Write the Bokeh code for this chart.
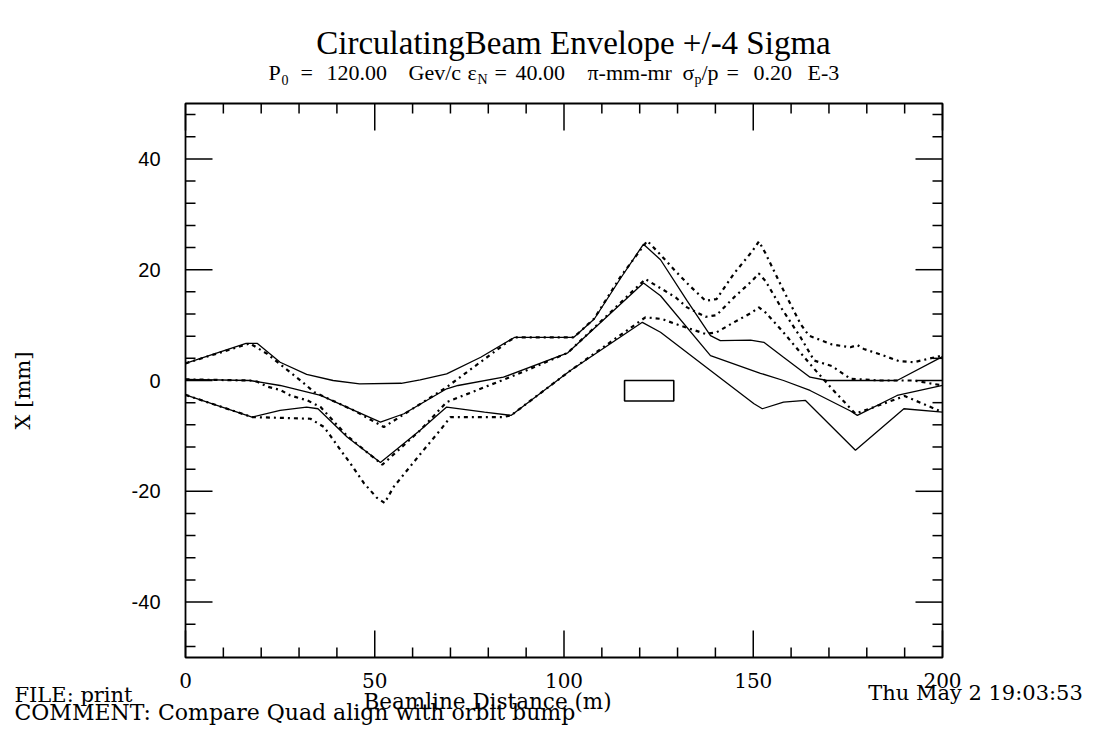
from bokeh.plotting import figure
from bokeh.models import Label, Range1d
from bokeh.core.properties import value
from bokeh.embed import file_html
from bokeh.resources import INLINE
import math

# ---------------- data ----------------
# Case A (solid): +4 sigma envelope, centre orbit, -4 sigma envelope
a_up_x = [0, 16, 19, 25, 32, 39, 46, 57, 62, 69, 78, 87, 102.6, 108, 115, 121, 125.5, 132.5, 138.7, 141.3, 149.3, 152.8, 158, 165, 169.5, 188, 200]
a_up_y = [3.1, 6.7, 6.7, 3.3, 1.1, 0.0, -0.6, -0.5, 0.1, 1.2, 4.2, 7.8, 7.8, 11.1, 18.5, 24.6, 21.8, 14.4, 8.1, 7.2, 7.3, 6.9, 4.2, 0.6, 0.0, 0.0, 4.3]

a_c_x = [0, 17, 25, 35.7, 44.5, 51.5, 57.7, 69, 72, 84, 101, 121, 125.5, 138.7, 151.9, 158, 165, 175.7, 177.5, 188, 200]
a_c_y = [0.2, 0.0, -0.9, -2.7, -5.4, -7.5, -6.0, -1.5, -0.9, 0.6, 5.0, 17.6, 15.3, 4.5, 1.3, 0.0, -1.8, -5.5, -6.3, -2.7, -0.9]

a_lo_x = [0, 17.6, 25, 32, 35, 42.7, 51.5, 62, 69, 79, 86, 101.7, 120.7, 125.5, 138.7, 150.2, 152.4, 158, 163.8, 177, 189.8, 200]
a_lo_y = [-2.6, -6.6, -5.4, -4.8, -5.1, -10.2, -14.8, -9.0, -4.8, -5.7, -6.3, 1.8, 10.5, 8.7, 1.8, -4.2, -5.1, -3.9, -3.6, -12.6, -5.1, -5.7]

# Case B (dotted): +4 sigma envelope, centre orbit, -4 sigma envelope
b_up_x = [0, 17, 21.6, 26, 30.4, 34, 44.5, 52.4, 69, 85, 87, 102.6, 108, 115, 122, 125.5, 129.5, 133.2, 137.4, 140.3, 144.9, 149.7, 151.5, 153.2, 157.6, 162.5, 164.7, 170.8, 175.7, 177.5, 179.2, 183.6, 188.5, 192.4, 200]
b_up_y = [3.1, 6.7, 4.8, 2.4, 0.0, -2.1, -5.4, -8.4, -1.2, 6.9, 7.8, 7.8, 11.2, 18.8, 25.2, 22.7, 19.7, 17.1, 14.4, 14.7, 19.3, 23.3, 25.1, 23.0, 16.8, 10.2, 8.1, 6.5, 6.0, 6.4, 5.7, 4.7, 3.5, 3.3, 4.5]

b_c_x = [0, 17, 18.9, 21.6, 25, 27.7, 32.2, 35.7, 42.7, 52, 62, 69, 83.5, 90, 101, 121.5, 125.9, 129.5, 132.5, 137.4, 140.3, 144.9, 149.7, 151.5, 153.2, 157.6, 162.5, 166.1, 170.8, 175.7, 183.6, 192.4, 200]
b_c_y = [0.2, 0.0, -0.2, -1.1, -1.7, -2.7, -3.6, -4.8, -10.0, -15.2, -9.0, -3.9, 0.0, 1.8, 5.0, 18.3, 16.5, 15.0, 13.2, 11.5, 11.8, 15.0, 18.0, 19.3, 18.0, 12.9, 7.8, 3.6, 2.6, 0.3, 0.0, 0.0, -0.9]

b_lo_x = [0, 17.6, 33, 36.6, 38.3, 41, 43.6, 47.1, 50.6, 52.6, 55, 62, 67.6, 70, 84, 86, 101.7, 121.5, 125.9, 129.5, 137.4, 140.3, 144.9, 149.7, 151.5, 153.2, 157.6, 162.5, 166.1, 170.8, 177, 190, 200]
b_lo_y = [-2.6, -6.6, -6.9, -8.4, -10.0, -12.6, -15.0, -18.5, -21.2, -22.1, -19.2, -13.3, -8.7, -6.6, -6.6, -6.3, 1.8, 11.4, 11.1, 10.2, 8.4, 8.7, 10.5, 12.3, 13.2, 12.3, 9.0, 5.0, 2.1, -1.5, -6.0, -2.8, -5.7]

# beamline element box
elem_left, elem_right, elem_bottom, elem_top = [116], [129], [-3.7], [0.0]

# axes
x_min, x_max = 0, 200
y_min, y_max = -50, 50
x_major_ticks = [0, 50, 100, 150, 200]
x_tick_labels = ["0", "50", "100", "150", "200"]
x_minor_ticks = [10, 20, 30, 40, 60, 70, 80, 90, 110, 120, 130, 140, 160, 170, 180, 190]
y_major_ticks = [-40, -20, 0, 20, 40]
y_tick_labels = ["-40", "-20", "0", "20", "40"]
y_minor_ticks = [-48, -44, -36, -32, -28, -24, -16, -12, -8, -4, 4, 8, 12, 16, 24, 28, 32, 36, 44, 48]

title_text = "CirculatingBeam Envelope +/-4 Sigma"
x_label = "Beamline Distance (m)"
y_label = "X [mm]"
file_text = "FILE:  print"
comment_text = "COMMENT: Compare Quad align with orbit bump"
date_text = "Thu May  2 19:03:53"
# subtitle pieces: (text, is_subscript)
subtitle_tokens = [("P", False), ("0", True), ("=", False), ("120.00", False),
                   ("Gev/c", False), ("\u03b5", False), ("N", True), ("=", False),
                   ("40.00", False), ("\u03c0-mm-mr", False), ("\u03c3", False),
                   ("p", True), ("/p", False), ("=", False), ("0.20", False), ("E-3", False)]

# ---------------- layout (canvas pixels) ----------------
W, H = 1094, 744
FL, FR, FT, FB = 185, 942, 103, 657          # plot frame edges on the page
MAJ, MIN = 27, 10                            # inward tick lengths (px)
SERIF = "DejaVu Serif"
TIMES = "Liberation Serif"
SANS = "Liberation Sans"
# left edge of each subtitle piece on the page
subtitle_px = [268, 281, 300, 326, 408, 467, 477, 494, 515, 587, 682, 694, 701, 726, 753, 807]

sx = (FR - FL) / (x_max - x_min)
sy = (FB - FT) / (y_max - y_min)
X0, X1 = x_min - FL / sx, x_max + (W - FR) / sx
Y0, Y1 = y_min - (H - FB) / sy, y_max + FT / sy

p = figure(width=W, height=H, x_range=Range1d(X0, X1), y_range=Range1d(Y0, Y1),
           output_backend="svg", toolbar_location=None, title=None,
           x_axis_type=None, y_axis_type=None, min_border=0,
           min_border_left=0, min_border_right=0, min_border_top=0, min_border_bottom=0)
p.xgrid.visible = False
p.ygrid.visible = False
p.outline_line_color = None
p.background_fill_color = "white"
p.border_fill_color = "white"


def dx(px):
    return X0 + px / sx


def dy(py):
    return Y1 - py / sy


# ---------------- frame and ticks (all four sides, pointing inward) ----------------
p.quad(left=[x_min], right=[x_max], bottom=[y_min], top=[y_max],
       fill_color=None, line_color="black", line_width=1.8)
tick_kw = dict(line_color="black", line_width=1.5)
for ticks, ln in ((x_major_ticks, MAJ), (x_minor_ticks, MIN)):
    d = ln / sy
    p.segment(x0=ticks, y0=[y_min] * len(ticks), x1=ticks, y1=[y_min + d] * len(ticks), **tick_kw)
    p.segment(x0=ticks, y0=[y_max] * len(ticks), x1=ticks, y1=[y_max - d] * len(ticks), **tick_kw)
for ticks, ln in ((y_major_ticks, MAJ), (y_minor_ticks, MIN)):
    d = ln / sx
    p.segment(x0=[x_min] * len(ticks), y0=ticks, x1=[x_min + d] * len(ticks), y1=ticks, **tick_kw)
    p.segment(x0=[x_max] * len(ticks), y0=ticks, x1=[x_max - d] * len(ticks), y1=ticks, **tick_kw)

p.text(x=x_major_ticks, y=[dy(680)] * len(x_major_ticks), text=x_tick_labels,
       text_font=value(SERIF), text_font_size="20px", text_align="center",
       text_baseline="middle", text_color="black")
p.text(x=[x_min - 25 / sx] * len(y_major_ticks), y=y_major_ticks, text=y_tick_labels,
       text_font=value(SANS), text_font_size="20px", text_align="right",
       text_baseline="middle", text_color="black")

# ---------------- curves ----------------
solid_kw = dict(line_color="black", line_width=1.3)
dot_kw = dict(line_color="black", line_width=2.2, line_dash="4 4 2 4")
p.line(a_up_x, a_up_y, **solid_kw)
p.line(a_c_x, a_c_y, **solid_kw)
p.line(a_lo_x, a_lo_y, **solid_kw)
p.line(b_up_x, b_up_y, **dot_kw)
p.line(b_c_x, b_c_y, **dot_kw)
p.line(b_lo_x, b_lo_y, **dot_kw)
p.quad(left=elem_left, right=elem_right, bottom=elem_bottom, top=elem_top,
       fill_color=None, line_color="black", line_width=1.6)


# ---------------- texts (y given as the vertical centre of the text) ----------------
def lab(text, px, py, size, align="left", font=SERIF, angle=0.0, style="normal"):
    p.add_layout(Label(x=dx(px), y=dy(py), text=text, text_font=font, text_font_size=f"{size}px",
                       text_align=align, text_baseline="middle", angle=angle,
                       text_color="black", text_font_style=style))


lab(title_text, 573, 42, 33, align="center", font=TIMES)

for (txt, sub), px in zip(subtitle_tokens, subtitle_px):
    if sub:
        lab(txt, px, 79, 14, font=TIMES)
    else:
        lab(txt, px, 72, 22, font=TIMES)

lab(file_text, 14, 694, 21)
lab(comment_text, 14, 712, 22)
lab(x_label, 363, 701, 21.5)
lab(date_text, 1089, 692, 21, align="right")
lab(y_label, 22, 390, 21, align="center", angle=math.pi / 2)

open("out.html", "w").write(file_html(p, INLINE))
